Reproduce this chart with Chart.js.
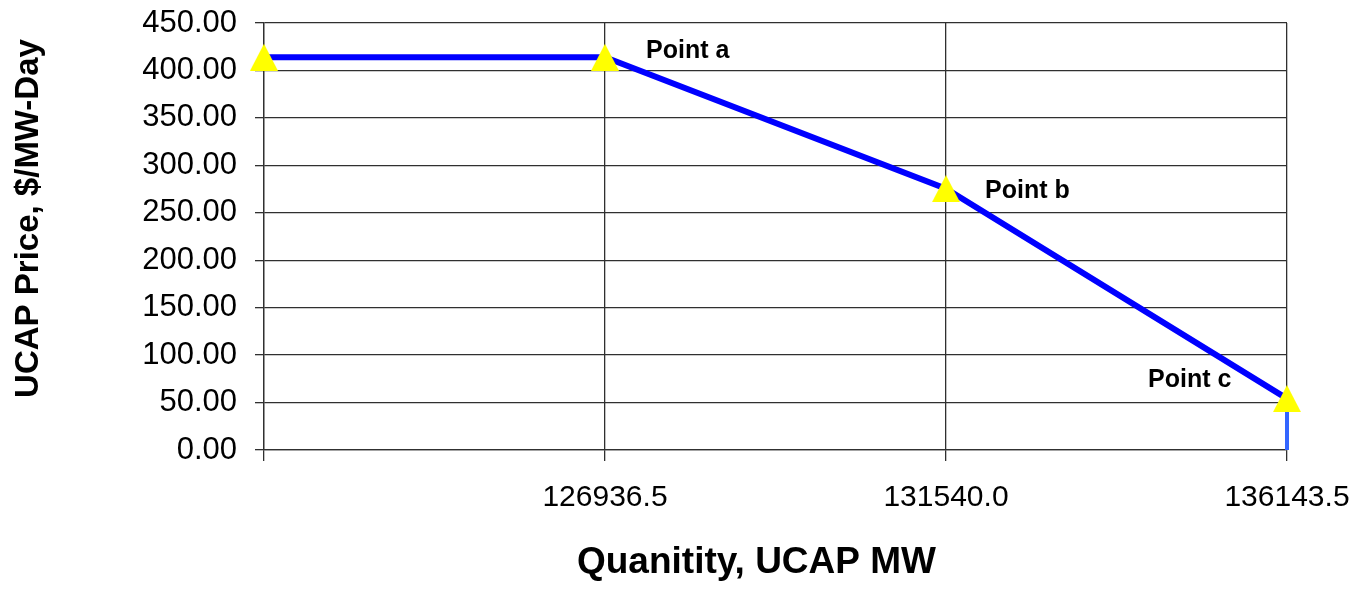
<!DOCTYPE html>
<html>
<head>
<meta charset="utf-8">
<title>UCAP demand curve</title>
<script src="https://cdn.jsdelivr.net/npm/chart.js@4/dist/chart.umd.min.js"></script>
<style>
  html, body { margin: 0; padding: 0; background: #fff; }
  canvas { display: block; }
</style>
</head>
<body>
<canvas id="curve" width="1362" height="589"></canvas>
<script>
// ---- data ----
const xValues = [122333.0, 126936.5, 131540.0, 136143.5];
const prices = [413.9, 413.9, 275.4, 54.2];
const pointNames = ['', 'Point a', 'Point b', 'Point c'];
const xTickLabels = ['', '126936.5', '131540.0', '136143.5'];
const yMin = 0, yMax = 450, yStep = 50;
// vertical drop at the end of the curve
const dropX = [136143.5, 136143.5];
const dropY = [54.2, 0];

const xTitle = 'Quanitity, UCAP MW';
const yTitle = 'UCAP Price, $/MW-Day';

const FONT = "'Liberation Sans', Arial, Helvetica, sans-serif";
const GRID = '#303030';

// yellow triangle marker, centred like the spreadsheet one
function makeTriangle(w, h) {
    const c = document.createElement('canvas');
    c.width = w; c.height = h;
    const g = c.getContext('2d');
    g.fillStyle = '#ffff00';
    g.beginPath();
    g.moveTo(w / 2, 0);
    g.lineTo(w, h);
    g.lineTo(0, h);
    g.closePath();
    g.fill();
    return c;
}
const tri = makeTriangle(28, 27);

// text next to the points (offsets in px from the point)
const labelOffsets = [[0, 0], [41, -6], [39, 2.5], [-139, -18.5]];
const pointLabelPlugin = {
    id: 'pointLabels',
    afterDatasetsDraw(chart) {
        const meta = chart.getDatasetMeta(0);
        const ctx = chart.ctx;
        ctx.save();
        ctx.font = "bold 25px " + FONT;
        ctx.fillStyle = '#000';
        ctx.textAlign = 'left';
        ctx.textBaseline = 'middle';
        meta.data.forEach((pt, i) => {
            if (!pointNames[i]) return;
            ctx.fillText(pointNames[i], pt.x + labelOffsets[i][0], pt.y + labelOffsets[i][1]);
        });
        ctx.restore();
    }
};

// axis titles, a bit off-centre as in the original
const axisTitlePlugin = {
    id: 'axisTitles',
    afterDraw(chart) {
        const a = chart.chartArea;
        const ctx = chart.ctx;
        ctx.save();
        ctx.fillStyle = '#000';
        ctx.textAlign = 'center';
        ctx.textBaseline = 'middle';
        ctx.font = "bold 37px " + FONT;
        ctx.fillText(xTitle, (a.left + a.right) / 2 - 19, chart.height - 26);
        ctx.translate(29, (a.top + a.bottom) / 2 - 18);
        ctx.rotate(-Math.PI / 2);
        ctx.font = "bold 33px " + FONT;
        ctx.fillText(yTitle, 0, 0);
        ctx.restore();
    }
};

const ctx = document.getElementById('curve').getContext('2d');
const chart = new Chart(ctx, {
    type: 'line',
    data: {
        datasets: [
            {
                label: 'Demand curve',
                data: xValues.map((x, i) => ({ x: x, y: prices[i] })),
                borderColor: '#0000ff',
                borderWidth: 6,
                pointStyle: tri,
                pointRadius: 14,
                pointHoverRadius: 14,
                tension: 0,
                clip: false,
                order: 0
            },
            {
                label: 'Drop',
                data: dropX.map((x, i) => ({ x: x, y: dropY[i] })),
                borderColor: '#3366ff',
                borderWidth: 4,
                pointRadius: 0,
                tension: 0,
                clip: false,
                order: 1
            }
        ]
    },
    options: {
        responsive: false,
        animation: false,
        devicePixelRatio: 1,
        layout: { padding: { left: 0, top: 23, right: 75, bottom: 0 } },
        plugins: {
            legend: { display: false },
            tooltip: { enabled: false }
        },
        scales: {
            x: {
                type: 'linear',
                min: xValues[0],
                max: xValues[xValues.length - 1],
                afterBuildTicks: (scale) => { scale.ticks = xValues.map(v => ({ value: v })); },
                afterFit: (scale) => {
                    scale.height = 139;
                    scale.paddingLeft = 0;
                    scale.paddingRight = 0;
                },
                ticks: {
                    autoSkip: false,
                    maxRotation: 0,
                    padding: 19,
                    color: '#000',
                    font: { family: FONT, size: 30 },
                    callback: (v, i) => xTickLabels[i]
                },
                grid: { color: GRID, lineWidth: 1.3, tickLength: 11 },
                border: { color: GRID, width: 1.3 }
            },
            y: {
                min: yMin,
                max: yMax,
                afterFit: (scale) => {
                    scale.width = 264;
                    // keep the label gap from pushing the plot down
                    scale.paddingTop = 10;
                    scale.paddingBottom = 10;
                },
                ticks: {
                    stepSize: yStep,
                    padding: 18,
                    color: '#000',
                    font: { family: FONT, size: 31 },
                    callback: (v) => v.toFixed(2)
                },
                grid: { color: GRID, lineWidth: 1.3, tickLength: 9 },
                border: { color: GRID, width: 1.3 }
            }
        }
    },
    plugins: [pointLabelPlugin, axisTitlePlugin]
});
</script>
</body>
</html>
